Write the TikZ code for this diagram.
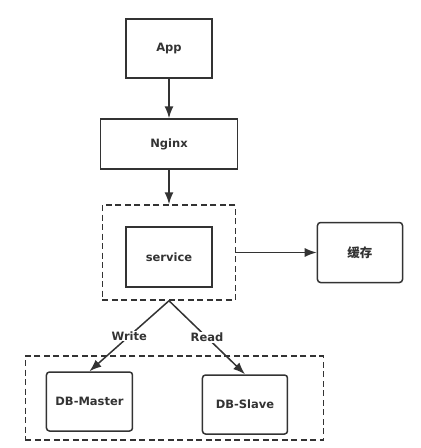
\documentclass[tikz,border=0pt]{standalone}
\usepackage{fontspec}
\setmainfont{DejaVu Sans}
\newfontfamily\cjk{Noto Sans CJK SC}
\usetikzlibrary{positioning, arrows.meta}
\definecolor{ink}{HTML}{333333}

\begin{document}
\begin{tikzpicture}[font=\bfseries\fontsize{11.5}{13}\selectfont, >={Latex[length=12pt,width=9pt]}, line width=1.5pt, draw=ink, text=ink]
\tikzset{
  box/.style={draw=ink, minimum width=86pt, minimum height=59pt},
  rbox/.style={box, rounded corners=3pt},
  group/.style={draw=ink, dash pattern=on 6pt off 3.5pt}
}

\node[box] (app) {App};
\useasboundingbox ([xshift=-169pt,yshift=48.5pt]app.center) rectangle ++(421pt,-448pt);
\node[box, minimum width=137pt, minimum height=50pt, below=39.5pt of app] (nginx) {Nginx};

\node[group, minimum width=133pt, minimum height=95pt, below=34.5pt of nginx] (svcgroup) {};
\node[box, minimum height=60pt] (service) at ([yshift=-4.5pt]svcgroup.center) {service};
\node[rbox, minimum width=85pt, minimum height=60pt, right=80.5pt of svcgroup] (cache) {\cjk\fontsize{12.5}{14}\selectfont 缓存};

\node[group, minimum width=298pt, minimum height=84pt, below=54.5pt of svcgroup, xshift=5.5pt] (dbgroup) {};
\node[rbox] (master) at ([xshift=-85pt,yshift=-3.5pt]dbgroup.center) {DB-Master};
\node[rbox, minimum width=85pt] (slave) at ([xshift=70.5pt,yshift=-6.5pt]dbgroup.center) {DB-Slave};

\draw[->] (app) -- (nginx);
\draw[->] (nginx) -- (svcgroup);
\draw[->] (svcgroup) -- (cache);
\draw[->] (svcgroup.south) -- (master.north) node[midway, fill=white, inner sep=1pt] {Write};
\draw[->] (svcgroup.south) -- (slave.north) node[midway, fill=white, inner sep=1pt] {Read};

\end{tikzpicture}
\end{document}
